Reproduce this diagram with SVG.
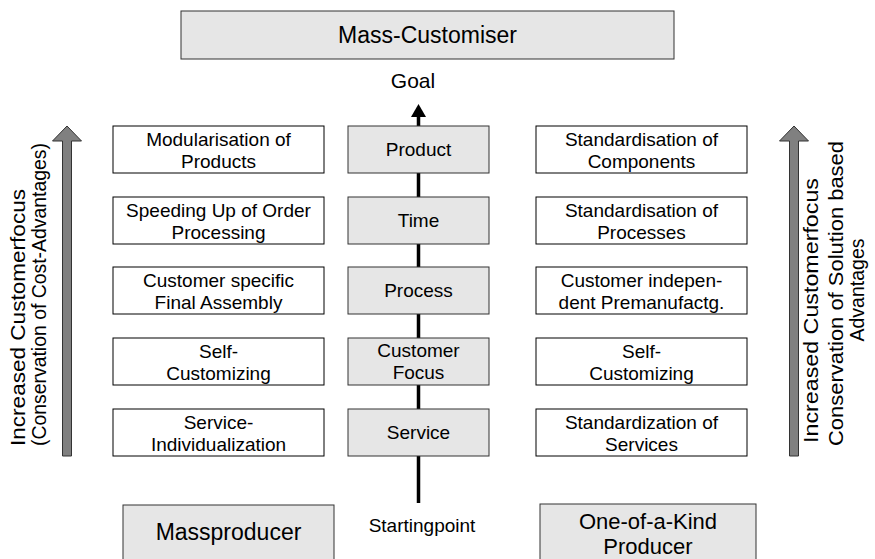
<svg xmlns="http://www.w3.org/2000/svg" width="875" height="559" viewBox="0 0 875 559">
<defs>
<style>
text{font-family:"Liberation Sans",Arial,sans-serif;fill:#000}
.t{font-size:19px;text-anchor:middle}
.big{font-size:23px;text-anchor:middle}
.rot{font-size:19.5px}
.w{fill:#fff;stroke:#000;stroke-width:1}
.g{fill:#e6e6e6;stroke:#333;stroke-width:1}
.ar{fill:#808080;stroke:#333;stroke-width:1}
</style>
<marker id="head" markerUnits="userSpaceOnUse" markerWidth="13" markerHeight="15" viewBox="0 0 13 15" refX="0" refY="7.5" orient="auto">
<path d="M0,0 L13,7.5 L0,15 z" fill="#000"/>
</marker>
</defs>
<rect width="875" height="559" fill="#fff"/>
<g id="connectors">
<line x1="418.5" y1="503" x2="418.5" y2="117" stroke="#000" stroke-width="3.5" marker-end="url(#head)"/>
</g>
<g id="mass-customiser">
<rect class="g" x="181" y="11" width="493" height="48"/>
<text class="big" x="427.5" y="43">Mass-Customiser</text>
</g>
<text id="goal" class="big" style="font-size:21px" x="413" y="88">Goal</text>
<g id="product"><rect class="g" x="348" y="126" width="141" height="47"/><text class="t" x="418.5" y="156">Product</text></g>
<g id="time"><rect class="g" x="348" y="197" width="141" height="47"/><text class="t" x="418.5" y="227">Time</text></g>
<g id="process"><rect class="g" x="348" y="267" width="141" height="47"/><text class="t" x="418.5" y="297">Process</text></g>
<g id="customer-focus"><rect class="g" x="348" y="338" width="141" height="47"/><text class="t" x="418.5" y="357">Customer</text><text class="t" x="418.5" y="379">Focus</text></g>
<g id="service"><rect class="g" x="348" y="409" width="141" height="47"/><text class="t" x="418.5" y="439">Service</text></g>
<g id="l1"><rect class="w" x="113" y="126" width="211" height="47"/><text class="t" x="218.5" y="146">Modularisation of</text><text class="t" x="218.5" y="168">Products</text></g>
<g id="l2"><rect class="w" x="113" y="197" width="211" height="47"/><text class="t" x="218.5" y="217">Speeding Up of Order</text><text class="t" x="218.5" y="239">Processing</text></g>
<g id="l3"><rect class="w" x="113" y="267" width="211" height="47"/><text class="t" x="218.5" y="287">Customer specific</text><text class="t" x="218.5" y="309">Final Assembly</text></g>
<g id="l4"><rect class="w" x="113" y="338" width="211" height="47"/><text class="t" x="218.5" y="358">Self-</text><text class="t" x="218.5" y="380">Customizing</text></g>
<g id="l5"><rect class="w" x="113" y="409" width="211" height="47"/><text class="t" x="218.5" y="429">Service-</text><text class="t" x="218.5" y="451">Individualization</text></g>
<g id="r1"><rect class="w" x="536" y="126" width="211" height="47"/><text class="t" x="641.5" y="146">Standardisation of</text><text class="t" x="641.5" y="168">Components</text></g>
<g id="r2"><rect class="w" x="536" y="197" width="211" height="47"/><text class="t" x="641.5" y="217">Standardisation of</text><text class="t" x="641.5" y="239">Processes</text></g>
<g id="r3"><rect class="w" x="536" y="267" width="211" height="47"/><text class="t" x="641.5" y="287">Customer indepen-</text><text class="t" x="641.5" y="309">dent Premanufactg.</text></g>
<g id="r4"><rect class="w" x="536" y="338" width="211" height="47"/><text class="t" x="641.5" y="358">Self-</text><text class="t" x="641.5" y="380">Customizing</text></g>
<g id="r5"><rect class="w" x="536" y="409" width="211" height="47"/><text class="t" x="641.5" y="429">Standardization of</text><text class="t" x="641.5" y="451">Services</text></g>
<g id="left-arrow">
<polygon class="ar" points="67,126 81.5,141 71.5,141 71.5,456 62.5,456 62.5,141 52.5,141"/>
<text class="rot" transform="translate(25,446) rotate(-90)" textLength="257" lengthAdjust="spacingAndGlyphs">Increased Customerfocus</text>
<text class="rot" transform="translate(46,446) rotate(-90)" textLength="303" lengthAdjust="spacingAndGlyphs">(Conservation of Cost-Advantages)</text>
</g>
<g id="right-arrow">
<polygon class="ar" points="794,126 808.5,141 798.5,141 798.5,456 789.5,456 789.5,141 779.5,141"/>
<text class="rot" transform="translate(818,443) rotate(-90)" textLength="265" lengthAdjust="spacingAndGlyphs">Increased Customerfocus</text>
<text class="rot" transform="translate(843,446) rotate(-90)" textLength="305" lengthAdjust="spacingAndGlyphs">Conservation of Solution based</text>
<text class="rot" text-anchor="middle" transform="translate(864,290) rotate(-90)">Advantages</text>
</g>
<g id="massproducer"><rect class="g" x="123" y="505" width="211" height="60"/><text class="big" x="228.5" y="540">Massproducer</text></g>
<text id="startingpoint" class="t" x="422" y="532">Startingpoint</text>
<g id="one-of-a-kind"><rect class="g" x="540" y="504" width="216" height="61"/><text class="big" style="font-size:22px" x="648" y="529">One-of-a-Kind</text><text class="big" style="font-size:22px" x="648" y="554">Producer</text></g>
</svg>
